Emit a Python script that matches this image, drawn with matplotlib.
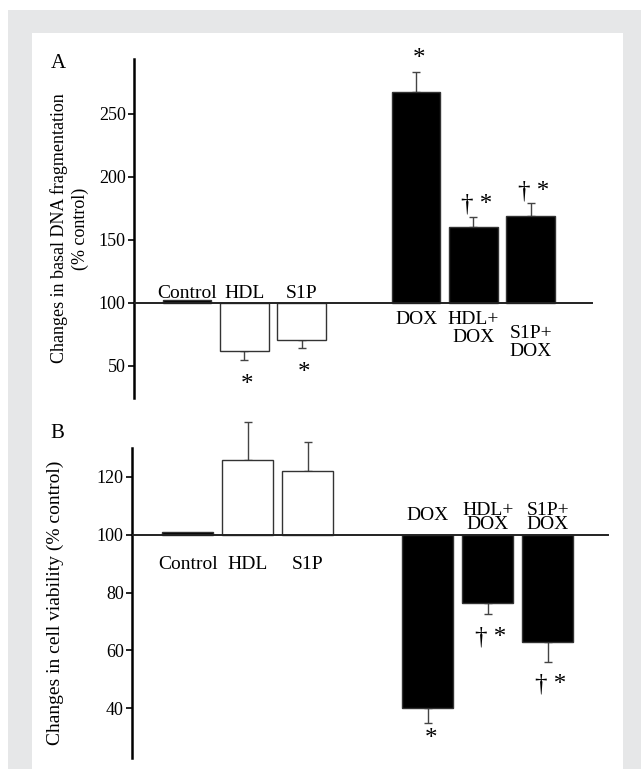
import matplotlib
matplotlib.use("Agg")
import matplotlib.pyplot as plt
from matplotlib.patches import Rectangle

plt.rcParams["font.family"] = ["Liberation Serif", "DejaVu Serif"]

# data
groups_a = ["Control", "HDL", "S1P", "DOX", "HDL+\nDOX", "S1P+\nDOX"]
groups_b = ["Control", "HDL", "S1P", "DOX", "HDL+\nDOX", "S1P+\nDOX"]
dna_frag = [102, 62, 70.5, 267.5, 160.5, 169]
dna_frag_err = [0, 7, 6.5, 16, 7.5, 10]
cell_viab = [100.8, 126, 122, 40, 76.5, 63]
cell_viab_err = [0, 13, 10, 5, 4, 7]
marks_a = ["", "*", "*", "*", "\u2020 *", "\u2020 *"]
marks_b = ["", "", "", "*", "\u2020 *", "\u2020 *"]
yticks_a = [50, 100, 150, 200, 250]
yticks_b = [40, 60, 80, 100, 120]

xpos = [0, 1, 2, 4, 5, 6]
fills = ["black", "white", "white", "black", "black", "black"]

W, H = 641, 769
fig = plt.figure(figsize=(W / 100, H / 100), dpi=100)

# grey frame with white inner panel
fig.patches.append(Rectangle((8 / W, 0), 1 - 8 / W, 1 - 10 / H, transform=fig.transFigure,
                             facecolor="#e6e7e8", edgecolor="none", zorder=-10))
fig.patches.append(Rectangle((32 / W, 0), (623 - 32) / W, 1 - 33 / H, transform=fig.transFigure,
                             facecolor="white", edgecolor="none", zorder=-9))


def px_axes(x0, x1, y0, y1):
    return fig.add_axes([x0 / W, 1 - y1 / H, (x1 - x0) / W, (y1 - y0) / H])


def draw_panel(ax, values, errs, marks, xlim, ylim, line_end, yticks, below_off):
    ax.set_xlim(*xlim)
    ax.set_ylim(*ylim)
    ax.patch.set_alpha(0)
    for s in ["top", "right", "bottom"]:
        ax.spines[s].set_visible(False)
    ax.spines["left"].set_linewidth(1.8)
    ax.set_xticks([])
    ax.set_yticks(yticks)
    ax.tick_params(axis="y", direction="out", length=4, width=1.2, labelsize=13, pad=2)

    heights = [v - 100 for v in values]
    ax.bar(xpos, heights, bottom=100, width=0.85, color=fills,
           edgecolor="#333333", linewidth=1.0, zorder=2)
    ax.plot([xlim[0], line_end], [100, 100], color="#222222", lw=1.4, zorder=3)

    for x, v, e, m, bo in zip(xpos, values, errs, marks, below_off):
        if e == 0:
            continue
        sign = 1 if v > 100 else -1
        lo, hi = (0, e) if sign > 0 else (e, 0)
        eb = ax.errorbar([x], [v], yerr=[[lo], [hi]], fmt="none", ecolor="#444444",
                         elinewidth=1.0, capsize=3, capthick=1.0, zorder=1)
        for art in eb.lines[1] + eb.lines[2]:
            art.set_clip_on(False)
        if m:
            ax.annotate(m, (x, v + sign * e), xytext=(2, 1 if sign > 0 else bo),
                        textcoords="offset points", ha="center",
                        va="bottom" if sign > 0 else "top", fontsize=18)


# panel A
ax_a = px_axes(134, 600, 59, 398)
draw_panel(ax_a, dna_frag, dna_frag_err, marks_a, (-0.925, 7.21), (24.6, 293.6), 7.07,
           yticks_a, [0, -10, -10, 0, 0, 0])
for x, lab in zip(xpos, groups_a):
    if x < 3:
        ax_a.annotate(lab, (x, 100), xytext=(0, 1), textcoords="offset points",
                      ha="center", va="bottom", fontsize=14)
    else:
        dy = -16 if x == 6 else -6
        ax_a.annotate(lab, (x, 100), xytext=(0, dy), textcoords="offset points",
                      ha="center", va="top", fontsize=14, linespacing=1.05)
ax_a.set_ylabel("Changes in basal DNA fragmentation\n(% control)", fontsize=13,
                linespacing=1.3)
ax_a.yaxis.set_label_coords(-0.097, 0.5)
fig.text(58 / W, 1 - 63 / H, "A", fontsize=15, ha="center", va="center")

# panel B
ax_b = px_axes(132, 615, 448, 758)
draw_panel(ax_b, cell_viab, cell_viab_err, marks_b, (-0.93, 7.12), (22.8, 130), 7.0,
           yticks_b, [0, 0, 0, -4, -9, -8])
for x, lab in zip(xpos, groups_b):
    if x < 3:
        ax_b.annotate(lab, (x, 100), xytext=(0, -15), textcoords="offset points",
                      ha="center", va="top", fontsize=14)
    else:
        dy = 8 if x == 4 else 1
        ax_b.annotate(lab, (x, 100), xytext=(0, dy), textcoords="offset points",
                      ha="center", va="bottom", fontsize=14, linespacing=0.8)
ax_b.set_ylabel("Changes in cell viability (% control)", fontsize=14)
ax_b.yaxis.set_label_coords(-0.141, 0.5)
fig.text(57 / W, 1 - 433 / H, "B", fontsize=15, ha="center", va="center")

fig.savefig("out.png", dpi=100)
